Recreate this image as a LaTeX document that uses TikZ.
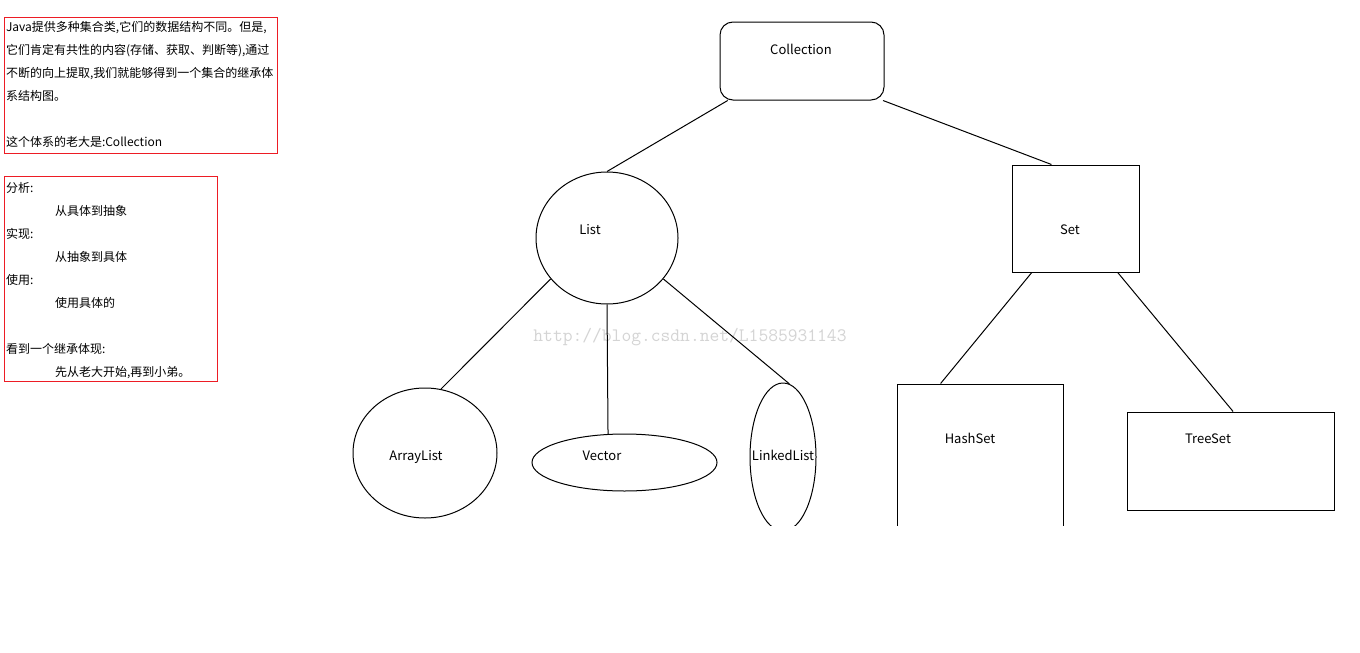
\documentclass[tikz,border=0pt]{standalone}
\usepackage{fontspec}
\setmainfont{Noto Sans CJK SC}
\usetikzlibrary{shapes.geometric}
\definecolor{notered}{RGB}{237,28,36}

\begin{document}
\begin{tikzpicture}[x=1pt, y=-1pt, line width=1pt,
oval/.style={ellipse, draw, inner sep=0pt}, sqbox/.style={rectangle, draw, inner sep=0pt},
lbl/.style={inner sep=0pt, text height=9pt, text depth=0pt, font=\fontsize{13}{16}\selectfont},
note/.style={rectangle, draw=notered, inner sep=0pt, anchor=north west},
notetext/.style={anchor=north west, inner sep=0pt, align=left, font=\fontsize{12}{23}\selectfont}]
  \useasboundingbox[fill=white] (0,0) rectangle (1360,653);
  % notes
  \node[note, minimum width=273, minimum height=136] (note1) at (4,17) {};
  \node[notetext] (txt1) at (5.5,21) {Java提供多种集合类,它们的数据结构不同。但是,\\它们肯定有共性的内容(存储、获取、判断等),通过\\不断的向上提取,我们就能够得到一个集合的继承体\\系结构图。\\[23pt]这个体系的老大是:Collection};
  \node[note, minimum width=213, minimum height=205] (note2) at (4,176) {};
  \node[notetext] (txt2) at (5.5,182) {分析:\\\hspace*{49pt}从具体到抽象\\实现:\\\hspace*{49pt}从抽象到具体\\使用:\\\hspace*{49pt}使用具体的\\[23pt]看到一个继承体现:\\\hspace*{49pt}先从老大开始,再到小弟。};
  \begin{scope}
  \clip (0,0) rectangle (1360,525.5);
  % root
  \node[sqbox, rounded corners=13pt, minimum width=164, minimum height=78] (coll) at (802,61) {};
  % layer 1
  \node[oval, minimum width=142, minimum height=132] (list) at (607,238) {};
  \node[sqbox, minimum width=127, minimum height=107] (set) at (1075.5,218.5) {};
  % layer 2
  \node[oval, minimum width=144, minimum height=130] (arr) at (425,453) {};
  \node[oval, minimum width=185, minimum height=57] (vec) at (624.5,462.5) {};
  \node[oval, minimum width=66, minimum height=148] (link) at (783,457) {};
  \node[sqbox, minimum width=166, minimum height=176] (hs) at (980,472) {};
  \node[sqbox, minimum width=207, minimum height=98] (ts) at (1230.5,461) {};
  % labels
  \node[lbl] (tcoll) at (801,50) {Collection};
  \node[lbl] (tlist) at (590,230) {List};
  \node[lbl] (tset) at (1070,230) {Set};
  \node[lbl] (tarr) at (416,456) {ArrayList};
  \node[lbl] (tvec) at (602,456) {Vector};
  \node[lbl] (tlink) at (783,456) {LinkedList};
  \node[lbl] (ths) at (970,439) {HashSet};
  \node[lbl] (tts) at (1208,439) {TreeSet};
  % watermark
  \node[text=black!17, inner sep=0pt, font=\ttfamily\fontsize{19}{19}\selectfont] (mark) at (690,337) {http://blog.csdn.net/L1585931143};

\foreach \from/\to in {coll.208/list.90,coll.334/set.114,list.216/arr.76,list.270/vec.120,list.324/link.85,set.231/hs.114,set.308/ts.87}
    \draw (\from) -- (\to);
  \end{scope}
\end{tikzpicture}
\end{document}
